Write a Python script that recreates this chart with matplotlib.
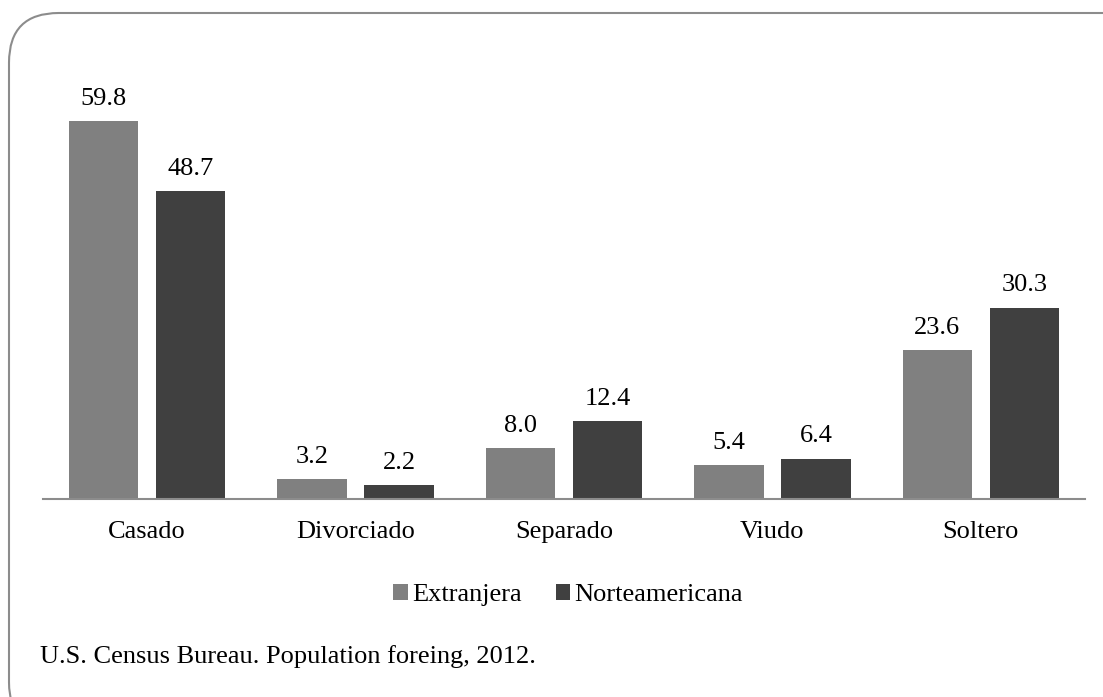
import numpy as np
import matplotlib.pyplot as plt
from matplotlib.patches import FancyBboxPatch

# datos
categorias = ["Casado", "Divorciado", "Separado", "Viudo", "Soltero"]
extranjera = [59.8, 3.2, 8.0, 5.4, 23.6]
norteamericana = [48.7, 2.2, 12.4, 6.4, 30.3]
fuente = "U.S. Census Bureau. Population foreing, 2012."

plt.rcParams["font.family"] = "serif"
plt.rcParams["font.serif"] = ["Liberation Serif", "Times New Roman", "DejaVu Serif"]
fs = 19

fig = plt.figure(figsize=(11.03, 6.97), dpi=100)
W, H = 1103, 697

# marco redondeado
marco = FancyBboxPatch((9 / W, -0.05), 1.2, 1 - 13 / H + 0.05,
                       boxstyle="round,pad=0,rounding_size=0.045",
                       transform=fig.transFigure, facecolor="none",
                       edgecolor="#8c8c8c", linewidth=1.5, mutation_aspect=W / H)
fig.patches.append(marco)

ax = fig.add_axes([43 / W, 198 / H, (1085 - 43) / W, 442.4 / H])
x = np.arange(len(categorias))
w = 0.333
b1 = ax.bar(x - 0.209, extranjera, w, color="#808080", label="Extranjera")
b2 = ax.bar(x + 0.209, norteamericana, w, color="#404040", label="Norteamericana")

for barras in (b1, b2):
    for b in barras:
        ax.annotate(f"{b.get_height():.1f}", (b.get_x() + b.get_width() / 2, b.get_height()),
                    xytext=(0, 8), textcoords="offset points", ha="center", va="bottom",
                    fontsize=fs)

ax.set_xlim(-0.5, 4.5)
ax.set_ylim(0, 70)
ax.set_xticks(x)
ax.set_xticklabels(categorias, fontsize=fs)
ax.tick_params(axis="x", length=0, pad=16)
ax.set_yticks([])
for s in ["top", "right", "left"]:
    ax.spines[s].set_visible(False)
ax.spines["bottom"].set_color("#8c8c8c")
ax.spines["bottom"].set_linewidth(1.5)

fig.legend(handles=[b1, b2], loc="center", bbox_to_anchor=(568 / W, 1 - 595 / H),
           ncol=2, frameon=False, fontsize=fs, handlelength=0.55, handleheight=0.55,
           handletextpad=0.15, columnspacing=1.3)

fig.text(40 / W, 1 - 657 / H, fuente, fontsize=fs, va="center", ha="left")

fig.savefig("out.png", dpi=100)
